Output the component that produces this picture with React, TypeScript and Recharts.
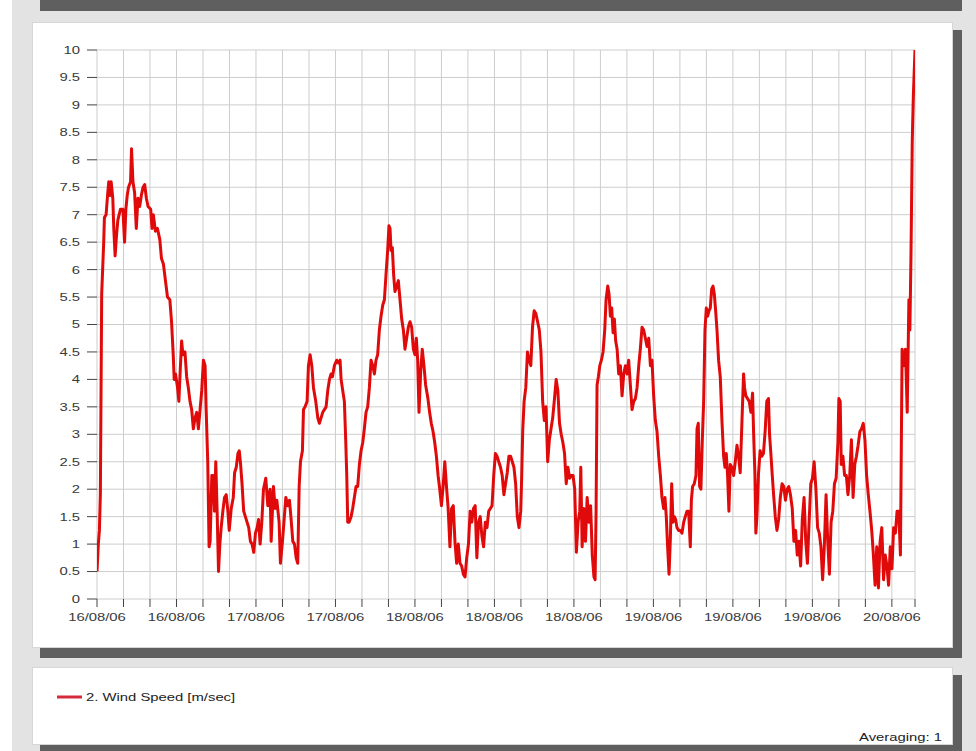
import React from "react";
import { LineChart, Line, XAxis, YAxis, CartesianGrid, Legend } from "recharts";

// hours since start (16/08/06 12:00), wind speed m/sec
const DAY_16: [number, number][] = [
  [0, 0.5], [0.15, 1.0], [0.27, 1.25], [0.38, 1.9], [0.53, 5.55], [0.76, 6.5], [0.84, 6.95], [1.03, 7.0],
  [1.22, 7.4], [1.33, 7.6], [1.48, 7.35], [1.6, 7.6], [1.79, 7.3], [1.9, 6.75], [2.05, 6.25], [2.2, 6.6],
  [2.36, 6.9], [2.66, 7.1], [2.93, 7.1], [3.12, 6.5], [3.27, 7.1], [3.42, 7.35], [3.57, 7.5], [3.8, 7.6],
  [3.91, 8.2], [4.07, 7.6], [4.26, 7.4], [4.45, 6.75], [4.64, 7.3], [4.83, 7.15], [5.02, 7.35], [5.21, 7.5],
  [5.4, 7.55], [5.59, 7.3], [5.78, 7.15], [6.08, 7.1], [6.23, 6.75], [6.38, 7.0], [6.61, 6.7], [6.84, 6.75],
  [7.11, 6.55], [7.3, 6.2], [7.52, 6.1], [7.75, 5.8], [7.98, 5.5], [8.25, 5.45], [8.44, 5.05], [8.63, 4.45],
  [8.74, 4.0], [8.89, 4.1], [9.12, 3.85], [9.27, 3.6], [9.42, 4.15], [9.58, 4.7], [9.73, 4.45], [9.96, 4.5],
  [10.15, 4.05], [10.34, 3.85], [10.53, 3.6], [10.72, 3.45], [10.91, 3.1], [11.1, 3.3], [11.29, 3.4], [11.48, 3.1],
  [11.67, 3.45], [11.86, 3.8], [12.05, 4.35], [12.24, 4.25], [12.35, 3.5], [12.54, 2.5], [12.69, 0.95], [12.81, 1.05],
];

const DAY_17: [number, number][] = [
  [13.0, 2.25], [13.15, 2.25], [13.3, 1.6], [13.45, 2.5], [13.6, 1.6], [13.76, 0.5], [13.91, 1.0], [14.06, 1.3],
  [14.25, 1.6], [14.44, 1.85], [14.63, 1.9], [14.82, 1.6], [14.97, 1.25], [15.2, 1.65], [15.43, 1.85], [15.58, 2.3],
  [15.77, 2.4], [15.96, 2.65], [16.11, 2.7], [16.26, 2.45], [16.42, 2.1], [16.61, 1.6], [16.8, 1.5], [16.99, 1.4],
  [17.18, 1.3], [17.37, 1.05], [17.56, 1.0], [17.75, 0.85], [17.94, 1.2], [18.13, 1.3], [18.29, 1.45], [18.47, 1.0],
  [18.66, 1.4], [18.85, 2.0], [19.11, 2.2], [19.34, 1.7], [19.6, 2.0], [19.72, 1.05], [19.98, 2.05], [20.17, 1.65],
  [20.36, 1.8], [20.62, 1.4], [20.77, 0.65], [21.0, 1.05], [21.19, 1.45], [21.38, 1.85], [21.6, 1.7], [21.79, 1.8],
  [21.98, 1.45], [22.17, 1.05], [22.36, 1.0], [22.55, 0.75], [22.73, 0.65], [22.89, 2.05], [23.04, 2.5], [23.26, 2.7],
  [23.38, 3.45], [23.56, 3.5], [23.79, 3.6], [23.94, 4.25], [24.13, 4.45], [24.32, 4.25], [24.51, 3.85], [24.77, 3.6],
  [25.0, 3.3], [25.18, 3.2], [25.37, 3.3], [25.56, 3.4], [25.75, 3.45], [25.94, 3.5], [26.13, 3.8], [26.32, 4.0],
  [26.5, 4.1], [26.66, 4.05], [26.88, 4.25], [27.15, 4.35], [27.33, 4.3], [27.52, 4.35], [27.64, 4.0], [27.82, 3.8],
  [28.01, 3.6], [28.16, 2.9], [28.28, 2.25], [28.39, 1.4], [28.54, 1.4], [28.77, 1.5], [28.95, 1.65], [29.14, 1.85],
  [29.33, 2.05], [29.52, 2.05], [29.71, 2.45], [29.9, 2.7], [30.09, 2.85], [30.27, 3.1], [30.46, 3.4], [30.65, 3.5],
  [30.84, 3.85], [31.03, 4.35], [31.22, 4.25], [31.41, 4.1], [31.59, 4.35], [31.78, 4.45], [31.97, 4.9], [32.16, 5.15],
  [32.35, 5.35], [32.54, 5.45], [32.72, 5.9], [32.91, 6.35], [33.06, 6.8], [33.18, 6.75], [33.29, 6.35], [33.44, 6.4],
  [33.59, 5.9], [33.74, 5.6], [33.93, 5.7], [34.12, 5.8], [34.31, 5.45], [34.5, 5.1], [34.69, 4.9], [34.87, 4.55],
  [35.06, 4.75], [35.25, 4.95], [35.44, 5.05], [35.63, 4.95], [35.82, 4.55],
];

const DAY_18: [number, number][] = [
  [36.0, 4.45], [36.16, 4.75], [36.31, 4.35], [36.46, 3.4], [36.65, 4.15], [36.83, 4.55], [37.02, 4.25], [37.21, 3.9],
  [37.47, 3.65], [37.66, 3.4], [37.85, 3.2], [38.05, 3.05], [38.24, 2.85], [38.43, 2.6], [38.62, 2.25], [38.81, 2.0],
  [39.0, 1.7], [39.19, 2.05], [39.38, 2.5], [39.57, 2.05], [39.76, 1.65], [39.96, 0.95], [40.15, 1.65], [40.34, 1.7],
  [40.53, 1.05], [40.72, 0.65], [40.91, 1.0], [41.1, 0.65], [41.29, 0.6], [41.48, 0.45], [41.67, 0.4], [41.86, 0.75],
  [42.06, 1.0], [42.25, 1.6], [42.44, 1.4], [42.63, 1.65], [42.82, 1.7], [43.01, 0.75], [43.2, 1.4], [43.39, 1.5],
  [43.58, 1.15], [43.77, 0.95], [43.97, 1.4], [44.16, 1.3], [44.35, 1.6], [44.54, 1.65], [44.73, 1.7], [44.92, 2.25],
  [45.11, 2.65], [45.3, 2.6], [45.49, 2.5], [45.69, 2.4], [45.88, 2.25], [46.07, 1.9], [46.26, 2.1], [46.45, 2.3],
  [46.64, 2.6], [46.83, 2.6], [47.02, 2.5], [47.21, 2.4], [47.4, 2.1], [47.59, 1.5], [47.78, 1.3], [47.98, 1.6],
  [48.09, 2.25], [48.2, 3.05], [48.36, 3.6], [48.55, 3.85], [48.74, 4.5], [48.93, 4.35], [49.12, 4.25], [49.31, 4.95],
  [49.5, 5.25], [49.69, 5.2], [49.89, 5.05], [50.08, 4.9], [50.27, 4.5], [50.46, 3.6], [50.65, 3.25], [50.84, 3.5],
  [51.03, 2.5], [51.22, 2.9], [51.41, 3.1], [51.6, 3.3], [51.8, 3.65], [51.99, 4.0], [52.18, 3.8], [52.37, 3.2],
  [52.56, 3.0], [52.75, 2.85], [52.94, 2.65], [53.13, 2.1], [53.32, 2.4], [53.51, 2.2], [53.7, 2.25], [53.9, 2.25],
  [54.09, 2.0], [54.28, 0.85], [54.47, 1.4], [54.66, 1.6], [54.78, 2.4], [54.93, 0.95], [55.12, 1.65], [55.31, 1.05],
  [55.5, 1.85], [55.69, 1.4], [55.89, 1.7], [56.08, 0.8], [56.27, 0.4], [56.4, 0.35], [56.51, 1.6], [56.62, 3.9],
  [56.77, 4.05], [56.93, 4.25],
];

const DAY_19: [number, number][] = [
  [57.11, 4.35], [57.3, 4.5], [57.49, 4.9], [57.64, 5.45], [57.83, 5.7], [57.98, 5.55], [58.13, 5.15], [58.28, 5.3],
  [58.43, 4.85], [58.58, 5.1], [58.73, 4.7], [58.89, 4.55], [59.07, 4.1], [59.26, 4.25], [59.45, 3.7], [59.64, 4.1],
  [59.83, 4.25], [60.02, 4.1], [60.2, 4.35], [60.39, 3.9], [60.58, 3.45], [60.77, 3.6], [60.96, 3.65], [61.15, 3.85],
  [61.34, 4.25], [61.52, 4.55], [61.71, 4.95], [61.9, 4.9], [62.09, 4.75], [62.28, 4.6], [62.47, 4.75], [62.66, 4.25],
  [62.84, 4.35], [63.03, 3.7], [63.22, 3.25], [63.41, 3.05], [63.6, 2.6], [63.79, 2.25], [63.97, 1.85], [64.16, 1.65],
  [64.31, 1.85], [64.46, 1.5], [64.61, 0.95], [64.77, 0.45], [64.92, 1.1], [65.07, 2.1], [65.22, 1.4], [65.37, 1.5],
  [65.52, 1.45], [65.67, 1.3], [65.86, 1.25], [66.05, 1.25], [66.24, 1.2], [66.43, 1.4], [66.61, 1.5], [66.8, 1.6],
  [66.99, 1.6], [67.18, 0.95], [67.3, 1.8], [67.44, 2.05], [67.63, 2.1], [67.82, 2.25], [67.94, 3.1], [68.08, 3.2],
  [68.23, 2.05], [68.38, 2.0], [68.54, 2.9], [68.69, 3.6], [68.84, 4.9], [68.99, 5.3], [69.14, 5.15], [69.29, 5.25],
  [69.44, 5.3], [69.6, 5.65], [69.75, 5.7], [69.9, 5.55], [70.05, 5.25], [70.2, 4.9], [70.38, 4.35], [70.57, 4.05],
  [70.76, 3.25], [70.95, 2.6], [71.1, 2.4], [71.25, 2.65], [71.4, 2.25], [71.55, 1.6], [71.7, 2.45], [71.89, 2.4],
  [72.08, 2.25], [72.27, 2.5], [72.46, 2.8], [72.64, 2.6], [72.83, 2.3], [73.02, 3.2], [73.21, 4.1], [73.32, 3.85],
  [73.47, 3.7], [73.66, 3.65], [73.85, 3.6], [74.04, 3.4], [74.23, 3.75], [74.34, 3.05], [74.49, 2.3], [74.6, 1.2],
  [74.72, 1.5], [74.89, 2.25], [75.08, 2.7], [75.27, 2.6], [75.46, 2.65], [75.65, 3.05], [75.84, 3.6], [76.03, 3.65],
  [76.15, 3.0], [76.3, 2.65], [76.46, 2.25], [76.61, 1.9], [76.8, 1.5], [76.99, 1.25], [77.18, 1.45], [77.37, 1.85],
  [77.57, 2.1], [77.76, 2.05], [77.95, 1.8], [78.14, 2.0], [78.33, 2.05], [78.52, 1.9], [78.72, 1.65], [78.91, 1.05],
  [79.1, 1.25], [79.29, 0.8], [79.48, 1.05], [79.67, 0.6], [79.86, 1.45], [80.06, 1.85], [80.25, 1.05], [80.44, 0.65],
  [80.63, 1.4], [80.82, 2.1], [81.01, 2.2], [81.2, 2.5], [81.4, 2.0], [81.59, 1.3], [81.78, 1.2], [81.97, 0.95],
  [82.16, 0.35], [82.35, 0.95], [82.55, 1.9], [82.74, 1.05], [82.93, 0.45], [83.12, 1.4], [83.31, 1.6], [83.5, 2.1],
  [83.69, 2.2], [83.89, 2.85], [84.0, 3.65], [84.15, 3.6], [84.27, 2.45], [84.46, 2.6], [84.65, 2.25], [84.84, 2.25],
];

const DAY_20: [number, number][] = [
  [85.03, 1.9], [85.23, 2.25], [85.42, 2.9], [85.61, 1.85], [85.8, 2.45], [85.99, 2.6], [86.18, 2.8], [86.38, 3.05],
  [86.57, 3.1], [86.76, 3.2], [86.95, 2.9], [87.14, 2.25], [87.33, 1.9], [87.52, 1.6], [87.72, 1.25], [87.91, 0.8],
  [88.1, 0.25], [88.29, 0.95], [88.48, 0.2], [88.67, 1.05], [88.86, 1.3], [89.06, 0.35], [89.25, 0.8], [89.44, 0.6],
  [89.63, 0.25], [89.82, 0.95], [90.01, 0.55], [90.2, 1.3], [90.4, 1.2], [90.59, 1.6], [90.78, 1.6], [90.97, 0.8],
  [91.16, 4.55], [91.35, 4.25], [91.54, 4.55], [91.74, 3.4], [91.93, 5.45], [92.04, 4.9], [92.16, 6.2], [92.31, 8.35],
  [92.43, 9.15], [92.54, 9.65], [92.62, 10.0],
];

const X_TICKS = [0, 3, 6, 9, 12, 15, 18, 21, 24, 27, 30, 33, 36, 39, 42, 45, 48, 51, 54, 57, 60, 63, 66, 69, 72, 75, 78, 81, 84, 87, 90, 92.62];
const X_LABELS = ["16/08/06", "16/08/06", "17/08/06", "17/08/06", "18/08/06", "18/08/06", "18/08/06", "19/08/06", "19/08/06", "19/08/06", "20/08/06"];
const Y_TICKS = [0, 0.5, 1, 1.5, 2, 2.5, 3, 3.5, 4, 4.5, 5, 5.5, 6, 6.5, 7, 7.5, 8, 8.5, 9, 9.5, 10];
const SERIES_NAME = "2. Wind Speed [m/sec]";
const AVERAGING = "Averaging: 1";

const data = [...DAY_16, ...DAY_17, ...DAY_18, ...DAY_19, ...DAY_20].map(([h, v]) => ({ h, v }));

const FONT = "'Liberation Sans', Arial, Helvetica, sans-serif";
const STRETCH = 1.35;

function XTick(props: any) {
  const { x, y, payload } = props;
  const v = payload.value;
  const idx = Math.round(v / 9);
  const show = Math.abs(v - idx * 9) < 1e-6 && idx < X_LABELS.length;
  if (!show) return <g />;
  return (
    <g transform={`translate(${x},${y})`}>
      <text transform={`scale(${STRETCH},1)`} textAnchor="middle" dy="0.71em" fontSize={11} fill="#3a3a3a" fontFamily={FONT}>
        {X_LABELS[idx]}
      </text>
    </g>
  );
}

function YTick(props: any) {
  const { x, y, payload } = props;
  const v = payload.value;
  const label = Number.isInteger(v) ? String(v) : v.toFixed(1);
  return (
    <g transform={`translate(${x},${y})`}>
      <text transform={`scale(${STRETCH},1)`} textAnchor="end" dy="0.355em" fontSize={11} fill="#3a3a3a" fontFamily={FONT}>
        {label}
      </text>
    </g>
  );
}

function LegendBox(props: any) {
  const name = props.payload && props.payload[0] ? props.payload[0].value : SERIES_NAME;
  return (
    <svg width={921} height={78} style={{ display: "block" }}>
      <line x1={25} x2={50} y1={30} y2={30} stroke="#d42a3a" strokeWidth={3} />
      <g transform={`translate(54,30) scale(${STRETCH},1)`}>
        <text dy="0.355em" fontSize={11} fill="#222" fontFamily={FONT}>{name}</text>
      </g>
      <g transform={`translate(910,70) scale(${STRETCH},1)`}>
        <text dy="0.355em" textAnchor="end" fontSize={11} fill="#222" fontFamily={FONT}>{AVERAGING}</text>
      </g>
    </svg>
  );
}

const SHADOW = "#5f5f5f";

export default function App() {
  return (
    <div style={{ position: "fixed", left: 0, top: 0, width: 976, height: 751, background: "#ffffff", overflow: "hidden" }}>
      <div style={{ position: "absolute", left: 12, top: 0, width: 964, height: 751, background: "#e3e3e3" }} />
      <div style={{ position: "absolute", left: 40, top: 0, width: 922, height: 11, background: SHADOW }} />
      <div style={{ position: "absolute", left: 40, top: 30, width: 922, height: 628, background: SHADOW }} />
      <div style={{ position: "absolute", left: 32, top: 22, width: 921, height: 626, background: "#fff", border: "1px solid #d6d6d6", boxSizing: "border-box" }} />
      <div style={{ position: "absolute", left: 40, top: 675, width: 922, height: 76, background: SHADOW }} />
      <div style={{ position: "absolute", left: 32, top: 667, width: 921, height: 78, background: "#fff", border: "1px solid #d6d6d6", boxSizing: "border-box" }} />
      <div style={{ position: "absolute", left: 32, top: 22 }}>
        <LineChart width={921} height={723} data={data} margin={{ top: 28, right: 38, bottom: 97, left: 0 }}>
          <CartesianGrid stroke="#cdcdcd" strokeWidth={1} />
          <XAxis
            dataKey="h"
            type="number"
            domain={[0, 92.62]}
            ticks={X_TICKS}
            interval={0}
            axisLine={false}
            tickLine={{ stroke: "#444" }}
            tickSize={8}
            tickMargin={6}
            height={49}
            tick={<XTick />}
            allowDataOverflow
          />
          <YAxis
            type="number"
            domain={[0, 10]}
            ticks={Y_TICKS}
            interval={0}
            axisLine={false}
            tickLine={{ stroke: "#444" }}
            tickSize={10}
            tickMargin={7}
            width={65}
            tick={<YTick />}
            allowDataOverflow
          />
          <Legend
            layout="horizontal"
            verticalAlign="middle"
            align="center"
            wrapperStyle={{ left: 0, top: 645, width: 921, height: 78 }}
            content={(p: any) => <LegendBox payload={p.payload} />}
          />
          <Line
            type="linear"
            dataKey="v"
            name={SERIES_NAME}
            stroke="#e00a0a"
            strokeWidth={3}
            strokeLinejoin="round"
            dot={false}
            isAnimationActive={false}
          />
        </LineChart>
      </div>
    </div>
  );
}
